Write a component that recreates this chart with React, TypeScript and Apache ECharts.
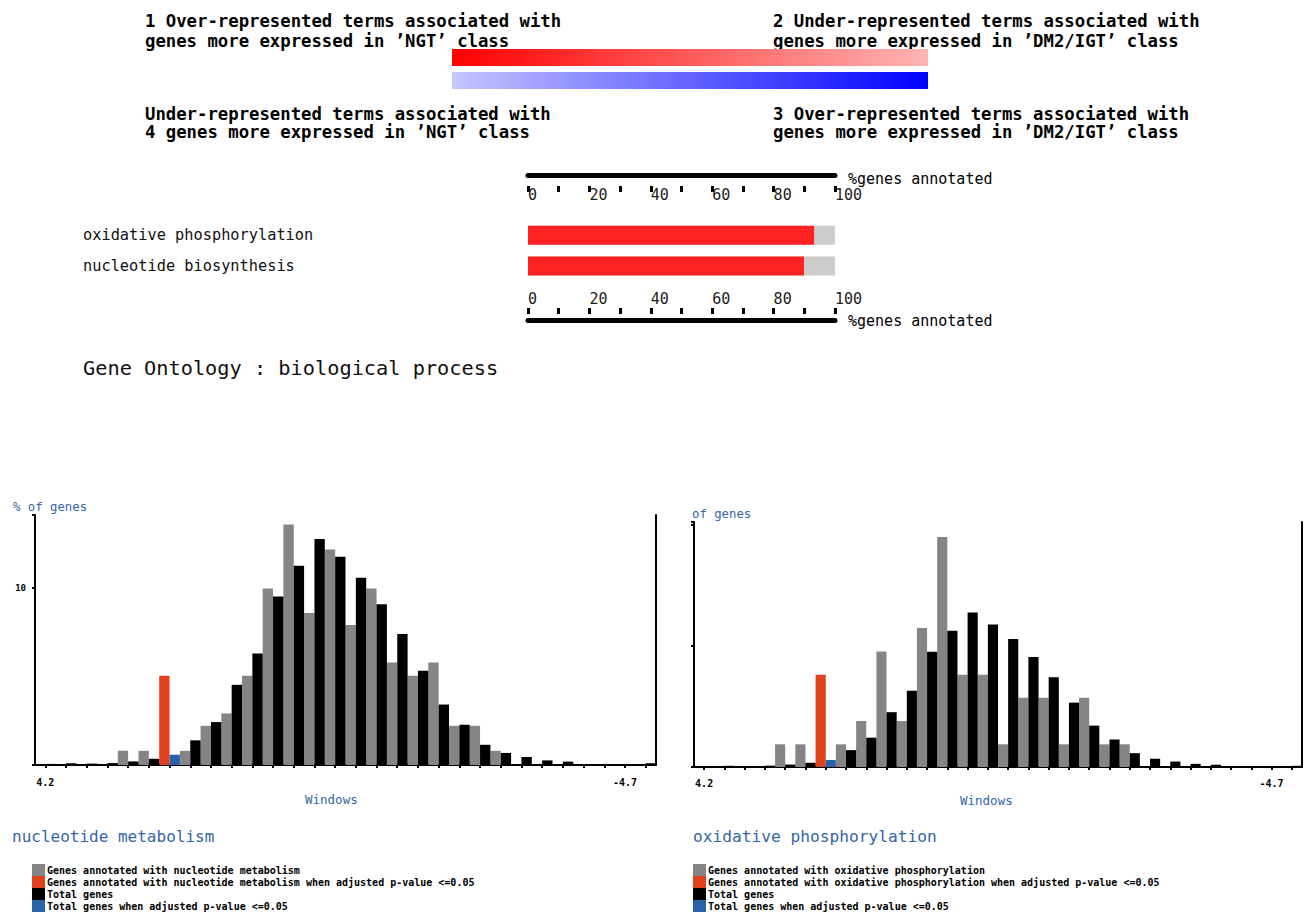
import React, { useEffect, useRef } from "react";
import * as echarts from "echarts";

const MONO = '"DejaVu Sans Mono", monospace';
const BLUE_TEXT = "#3566a8";

// ---- header texts ----
const headerLeftTop = ["1 Over-represented terms associated with", "genes more expressed in ’NGT’ class"];
const headerRightTop = ["2 Under-represented terms associated with", "genes more expressed in ’DM2/IGT’ class"];
const headerLeftBottom = ["Under-represented terms associated with", "4 genes more expressed in ’NGT’ class"];
const headerRightBottom = ["3 Over-represented terms associated with", "genes more expressed in ’DM2/IGT’ class"];

// ---- GO term bar chart ----
const goTerms = ["oxidative phosphorylation", "nucleotide biosynthesis"];
const goPercentAnnotated = [93.2, 89.9];
const scaleName = "%genes annotated";
const ontologyTitle = "Gene Ontology : biological process";

// ---- histograms ----
const windowTickLabels = [
  "4.2", "", "", "", "", "", "", "", "", "",
  "", "", "", "", "", "", "", "", "", "",
  "", "", "", "", "", "", "", "", "-4.7", "",
];
const totalGenes = [
  0.06, 0.1, 0.08, 0.11, 0.2, 0.35, 0, 1.39, 2.42, 4.52,
  6.29, 9.51, 11.24, 12.74, 11.74, 10.56, 9.06, 7.39, 5.31, 3.41,
  2.27, 1.14, 0.68, 0.45, 0.26, 0.19, 0, 0, 0, 0.1,
];
const totalGenesSig = [
  null, null, null, null, null, null, 0.58, null, null, null,
  null, null, null, null, null, null, null, null, null, null,
  null, null, null, null, null, null, null, null, null, null,
];
const nucleotideAnnot = [
  0, 0, 0, 0, 0.8, 0.8, 0, 0.8, 2.21, 2.91,
  5.03, 9.96, 13.56, 8.57, 12.16, 7.9, 9.96, 5.78, 5.03, 5.78,
  2.21, 2.21, 0.8, 0, 0, 0, 0, 0, 0, 0,
];
const nucleotideSig = [
  null, null, null, null, null, null, 5.03, null, null, null,
  null, null, null, null, null, null, null, null, null, null,
  null, null, null, null, null, null, null, null, null, null,
];
const oxphosAnnot = [
  0, 0, 0, 0, 1.87, 1.87, 0, 1.87, 3.79, 9.53,
  3.79, 11.46, 18.96, 7.61, 7.61, 1.87, 5.71, 5.71, 1.87, 5.71,
  1.87, 1.87, 0, 0, 0, 0, 0, 0, 0, 0,
];
const oxphosSig = [
  null, null, null, null, null, null, 7.61, null, null, null,
  null, null, null, null, null, null, null, null, null, null,
  null, null, null, null, null, null, null, null, null, null,
];

const leftNames = [
  "Genes annotated with nucleotide metabolism",
  "Genes annotated with nucleotide metabolism when adjusted p-value <=0.05",
  "Total genes",
  "Total genes when adjusted p-value <=0.05",
];
const rightNames = [
  "Genes annotated with oxidative phosphorylation",
  "Genes annotated with oxidative phosphorylation when adjusted p-value <=0.05",
  "Total genes",
  "Total genes when adjusted p-value <=0.05",
];
const barColors = ["#858585", "#e0401c", "#000000", "#2a62a8"];

function txt(x: number, y: number, text: string, size: number, opts: any = {}) {
  return {
    type: "text",
    x,
    y,
    silent: true,
    style: {
      text,
      fill: opts.fill || "#000",
      fontFamily: MONO,
      fontSize: size,
      fontWeight: opts.bold ? "bold" : "normal",
      align: opts.align || "left",
      verticalAlign: "middle",
      textAlign: opts.align || "left",
      textVerticalAlign: "middle",
    },
  };
}

function histAxes(gridIndex: number, max: number, showTen: boolean, labelMargin: number) {
  const x = {
    gridIndex,
    type: "category",
    data: windowTickLabels.map((_, i) => String(i)),
    boundaryGap: true,
    axisLine: { show: true, onZero: false, lineStyle: { color: "#000", width: 2 } },
    axisTick: { show: true, alignWithLabel: true, interval: 0, length: 3, lineStyle: { color: "#000", width: 2 } },
    axisLabel: {
      interval: 0,
      formatter: (_v: string, i: number) => windowTickLabels[i],
      fontFamily: MONO,
      fontSize: 10,
      fontWeight: "bold",
      color: "#000",
      margin: labelMargin,
    },
    splitLine: { show: false },
  };
  const yLeft = {
    gridIndex,
    type: "value",
    min: 0,
    max,
    interval: 10,
    axisLine: { show: true, onZero: false, lineStyle: { color: "#000", width: 2 } },
    axisTick: { show: true, length: 3, lineStyle: { color: "#000", width: 2 } },
    axisLabel: {
      show: showTen,
      formatter: (v: number) => (v === 10 ? "10" : ""),
      fontFamily: MONO,
      fontSize: 9,
      fontWeight: "bold",
      color: "#000",
      margin: 9,
    },
    splitLine: { show: false },
  };
  const yRight = {
    gridIndex,
    type: "value",
    position: "right",
    min: 0,
    max,
    axisLine: { show: true, onZero: false, lineStyle: { color: "#000", width: 2 } },
    axisTick: { show: false },
    axisLabel: { show: false },
    splitLine: { show: false },
  };
  return { x, yLeft, yRight };
}

function histSeries(names: string[], arrays: any[], xAxisIndex: number, yAxisIndex: number) {
  const stacks = ["annot", "annot", "total", "total"];
  return names.map((name, k) => ({
    name,
    type: "bar",
    xAxisIndex,
    yAxisIndex,
    stack: stacks[k] + xAxisIndex,
    data: arrays[k],
    barGap: "0%",
    barCategoryGap: "0%",
    itemStyle: { color: barColors[k] },
    emphasis: { disabled: true },
  }));
}

export default function App() {
  const ref = useRef<HTMLDivElement>(null);
  useEffect(() => {
    if (!ref.current) return;
    const chart = echarts.init(ref.current, undefined, { renderer: "svg" });

    const left = histAxes(2, 14.1, true, 12);
    const right = histAxes(3, 20.2, false, 11);

    const pctAxisBase = {
      gridIndex: 0,
      type: "value",
      min: 0,
      max: 100,
      interval: 10,
      splitLine: { show: false },
    };
    const pctTickLabel = (v: number) => (v % 20 === 0 ? String(v) : "");

    const graphic: any[] = [];
    headerLeftTop.forEach((t, i) => graphic.push(txt(145, 21 + i * 20, t, 17.3, { bold: true })));
    headerRightTop.forEach((t, i) => graphic.push(txt(773, 21 + i * 20, t, 17.3, { bold: true })));
    headerLeftBottom.forEach((t, i) => graphic.push(txt(145, 114 + i * 18, t, 17.3, { bold: true })));
    headerRightBottom.forEach((t, i) => graphic.push(txt(773, 114 + i * 18, t, 17.3, { bold: true })));
    graphic.push({
      type: "rect",
      silent: true,
      shape: { x: 452, y: 49, width: 476, height: 17 },
      style: {
        fill: new echarts.graphic.LinearGradient(0, 0, 1, 0, [
          { offset: 0, color: "#ff0000" },
          { offset: 1, color: "#ffb4b4" },
        ]),
      },
    });
    graphic.push({
      type: "rect",
      silent: true,
      shape: { x: 452, y: 72, width: 476, height: 17 },
      style: {
        fill: new echarts.graphic.LinearGradient(0, 0, 1, 0, [
          { offset: 0, color: "#c6c6ff" },
          { offset: 1, color: "#0000ff" },
        ]),
      },
    });
    graphic.push(txt(848, 179, scaleName, 15));
    graphic.push(txt(848, 321, scaleName, 15));
    graphic.push(txt(83, 368, ontologyTitle, 20.3, { fill: "#111" }));
    graphic.push(txt(13, 507, "% of genes", 12.3, { fill: BLUE_TEXT }));
    graphic.push(txt(692, 514, "of genes", 12.3, { fill: BLUE_TEXT }));
    graphic.push(txt(305, 799, "Windows", 12.5, { fill: BLUE_TEXT }));
    graphic.push(txt(960, 800, "Windows", 12.5, { fill: BLUE_TEXT }));
    graphic.push(txt(12, 836, "nucleotide metabolism", 16, { fill: BLUE_TEXT }));
    graphic.push(txt(693, 836, "oxidative phosphorylation", 16.2, { fill: BLUE_TEXT }));

    const legendBase = {
      orient: "vertical",
      top: 864,
      itemWidth: 13,
      itemHeight: 12,
      itemGap: 0,
      padding: 0,
      icon: "rect",
      selectedMode: false,
      textStyle: { fontFamily: MONO, fontSize: 10, fontWeight: "bold", color: "#000", padding: [0, 0, 0, -3] },
    };

    const option: any = {
      animation: false,
      backgroundColor: "#fff",
      graphic,
      legend: [
        { ...legendBase, left: 32, data: leftNames },
        { ...legendBase, left: 693, data: rightNames },
      ],
      grid: [
        { left: 528, top: 186, width: 307, height: 128, containLabel: false },
        { left: 528, top: 220, width: 307, height: 61.4, containLabel: false },
        { left: 35, top: 515, width: 621, height: 250, containLabel: false },
        { left: 694, top: 522, width: 608, height: 245, containLabel: false },
      ],
      xAxis: [
        {
          ...pctAxisBase,
          position: "top",
          axisLine: { show: false, onZero: false },
          axisTick: { show: true, inside: true, length: 6, lineStyle: { color: "#000", width: 3 } },
          axisLabel: {
            inside: true,
            margin: 1,
            align: "left",
            formatter: pctTickLabel,
            fontFamily: MONO,
            fontSize: 15,
            color: "#222",
            showMaxLabel: true,
          },
        },
        {
          ...pctAxisBase,
          position: "top",
          offset: 10.5,
          axisLine: { show: true, onZero: false, lineStyle: { color: "#000", width: 5 } },
          axisTick: { show: false },
          axisLabel: { show: false },
        },
        {
          ...pctAxisBase,
          position: "bottom",
          axisLine: { show: false, onZero: false },
          axisTick: { show: true, inside: true, length: 6, lineStyle: { color: "#000", width: 3 } },
          axisLabel: {
            inside: true,
            margin: 8,
            align: "left",
            formatter: pctTickLabel,
            fontFamily: MONO,
            fontSize: 15,
            color: "#222",
            showMaxLabel: true,
          },
        },
        {
          ...pctAxisBase,
          position: "bottom",
          offset: 6,
          axisLine: { show: true, onZero: false, lineStyle: { color: "#000", width: 5 } },
          axisTick: { show: false },
          axisLabel: { show: false },
        },
        { gridIndex: 1, type: "value", min: 0, max: 100, show: false },
        left.x,
        right.x,
      ],
      yAxis: [
        { gridIndex: 0, type: "value", min: 0, max: 1, show: false },
        {
          gridIndex: 1,
          type: "category",
          data: goTerms,
          inverse: true,
          axisLine: { show: false },
          axisTick: { show: false },
          axisLabel: {
            align: "left",
            margin: 445,
            fontFamily: MONO,
            fontSize: 15.3,
            color: "#111",
            padding: [4, 0, 0, 0],
          },
        },
        left.yLeft,
        left.yRight,
        right.yLeft,
        right.yRight,
      ],
      series: [
        {
          type: "bar",
          name: "% genes annotated",
          xAxisIndex: 4,
          yAxisIndex: 1,
          data: goPercentAnnotated,
          barWidth: 19,
          showBackground: true,
          backgroundStyle: { color: "#cccccc" },
          itemStyle: { color: "#ff2222" },
          emphasis: { disabled: true },
        },
        ...histSeries(leftNames, [nucleotideAnnot, nucleotideSig, totalGenes, totalGenesSig], 5, 2),
        ...histSeries(rightNames, [oxphosAnnot, oxphosSig, totalGenes, totalGenesSig], 6, 4),
      ],
    };
    chart.setOption(option);
    return () => chart.dispose();
  }, []);
  return (
    <div
      ref={ref}
      style={{ position: "absolute", left: 0, top: 0, width: 1305, height: 913 }}
    />
  );
}
